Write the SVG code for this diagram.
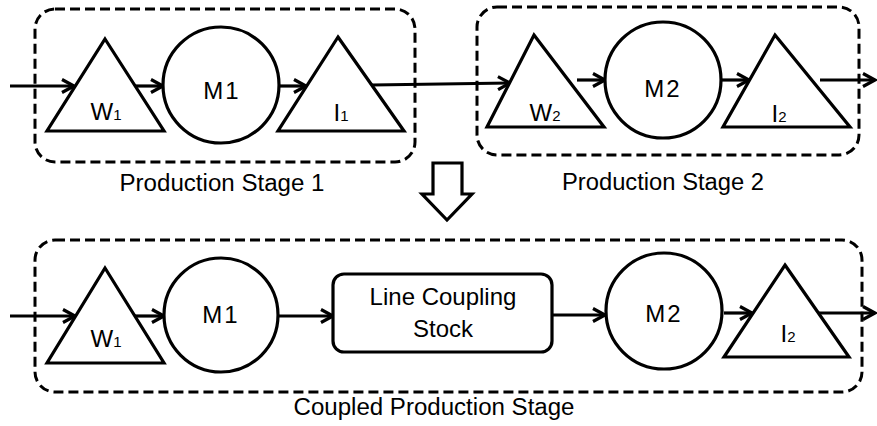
<svg xmlns="http://www.w3.org/2000/svg" width="877" height="426" viewBox="0 0 877 426">
<style>
.stage{fill:none;stroke:#000;stroke-width:3;stroke-dasharray:10 5}
.shape{fill:#fff;stroke:#000;stroke-width:3.2;stroke-linejoin:miter}
.lbl{font-family:"Liberation Sans",Arial,sans-serif;font-size:24px;fill:#000;text-anchor:middle}
.cap{font-family:"Liberation Sans",Arial,sans-serif;font-size:23px;fill:#000;text-anchor:middle}
.sub{font-size:15px}
.conn line{stroke:#000;stroke-width:3.2;marker-end:url(#arr)}
</style>
<defs>
<marker id="arr" viewBox="0 0 16 16" refX="14" refY="8" markerWidth="16" markerHeight="16" markerUnits="userSpaceOnUse" orient="auto">
<path d="M2,1.5 L14,8 L2,14.5" fill="none" stroke="#000" stroke-width="3.2"/>
</marker>
</defs>
<rect fill="#fff" x="0" y="0" width="877" height="426"/>

<g id="stage1">
<rect class="stage" x="35" y="9" width="380" height="153" rx="20"/>
<text class="cap" x="222" y="191" textLength="205" lengthAdjust="spacingAndGlyphs">Production Stage 1</text>
</g>
<g id="stage2">
<rect class="stage" x="477" y="7" width="382" height="148" rx="20"/>
<text class="cap" x="663" y="190" textLength="202" lengthAdjust="spacingAndGlyphs">Production Stage 2</text>
</g>
<g id="coupled">
<rect class="stage" x="35" y="240" width="827" height="152" rx="20"/>
<text class="cap" x="434" y="415" textLength="281" lengthAdjust="spacingAndGlyphs">Coupled Production Stage</text>
</g>

<g class="conn">
<line x1="10" y1="86" x2="74" y2="86"/>
<line x1="135" y1="86" x2="163" y2="86"/>
<line x1="279" y1="86" x2="306" y2="86"/>
<line x1="372" y1="85" x2="510" y2="83"/>
<line x1="577" y1="80" x2="605" y2="80"/>
<line x1="722" y1="80" x2="749" y2="80"/>
<line x1="820" y1="80" x2="875" y2="80"/>
<line x1="10" y1="316" x2="75" y2="316"/>
<line x1="135" y1="316" x2="164" y2="316"/>
<line x1="278" y1="316" x2="333" y2="316"/>
<line x1="552" y1="315" x2="605" y2="315"/>
<line x1="724" y1="313" x2="752" y2="313"/>
<line x1="818" y1="313" x2="875" y2="313"/>
</g>

<g id="W1-top">
<polygon class="shape" points="105,39 164,131 47,131"/>
<text class="lbl" x="106" y="120">W<tspan class="sub">1</tspan></text>
</g>
<g id="M1-top">
<circle class="shape" cx="221" cy="85" r="58"/>
<text class="lbl" x="222" y="99" letter-spacing="2">M1</text>
</g>
<g id="I1-top">
<polygon class="shape" points="338,37 404,131 278,131"/>
<text class="lbl" x="341" y="121">I<tspan class="sub">1</tspan></text>
</g>
<g id="W2-top">
<polygon class="shape" points="534,35 604,127 487,127"/>
<text class="lbl" x="545" y="121">W<tspan class="sub">2</tspan></text>
</g>
<g id="M2-top">
<circle class="shape" cx="663" cy="80" r="58"/>
<text class="lbl" x="663" y="97" letter-spacing="2">M2</text>
</g>
<g id="I2-top">
<polygon class="shape" points="775,35 850,127 723,127"/>
<text class="lbl" x="779" y="122">I<tspan class="sub">2</tspan></text>
</g>

<g id="down-arrow">
<polygon class="shape" points="433,163 462,163 462,194 472,194 447,220 422,194 433,194"/>
</g>

<g id="W1-bottom">
<polygon class="shape" points="105,268 164,363 47,363"/>
<text class="lbl" x="106" y="347">W<tspan class="sub">1</tspan></text>
</g>
<g id="M1-bottom">
<circle class="shape" cx="221" cy="315" r="57"/>
<text class="lbl" x="221" y="323" letter-spacing="2">M1</text>
</g>
<g id="coupling-stock">
<rect class="shape" x="333" y="274" width="219" height="78" rx="11"/>
<text class="lbl" x="443" y="305">Line Coupling</text>
<text class="lbl" x="443" y="337">Stock</text>
</g>
<g id="M2-bottom">
<circle class="shape" cx="664" cy="311" r="58"/>
<text class="lbl" x="664" y="322" letter-spacing="2">M2</text>
</g>
<g id="I2-bottom">
<polygon class="shape" points="785,265 849,357 724,357"/>
<text class="lbl" x="788" y="342">I<tspan class="sub">2</tspan></text>
</g>
</svg>
